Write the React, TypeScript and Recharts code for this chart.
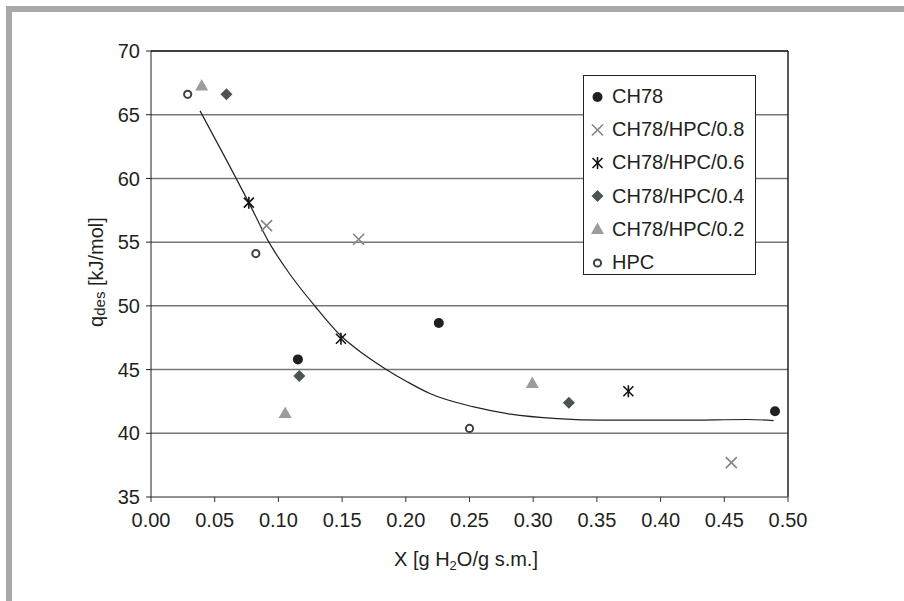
import { ScatterChart, Scatter, XAxis, YAxis, CartesianGrid, ReferenceLine } from 'recharts'

// [x, q] pairs
const ch78 = [[0.1153, 45.8], [0.2259, 48.65], [0.4898, 41.73]]
const hpc08 = [[0.0907, 56.3], [0.163, 55.23], [0.4555, 37.7]]
const hpc06 = [[0.0768, 58.1], [0.1491, 47.42], [0.3747, 43.3]]
const hpc04 = [[0.0592, 66.6], [0.1164, 44.5], [0.328, 42.4]]
const hpc02 = [[0.0398, 67.3], [0.1053, 41.6], [0.2993, 43.95]]
const hpc = [[0.0288, 66.6], [0.0823, 54.1], [0.25, 40.38]]

// trend curve
const trend = [
  [0.0385, 65.3], [0.06, 61.3], [0.0768, 58.1], [0.0925, 55.0], [0.1082, 52.6],
  [0.1289, 49.95], [0.149, 47.65], [0.167, 46.2], [0.184, 45.05], [0.201, 44.05],
  [0.2193, 43.1], [0.2534, 42.07], [0.2822, 41.5], [0.319, 41.15], [0.3556, 41.03],
  [0.416, 41.03], [0.4683, 41.08], [0.4887, 41.0],
]

const xTicks = [0, 0.05, 0.1, 0.15, 0.2, 0.25, 0.3, 0.35, 0.4, 0.45, 0.5]
const yTicks = [35, 40, 45, 50, 55, 60, 65, 70]

type Kind = 'dot' | 'cross' | 'star' | 'diamond' | 'triangle' | 'ring'

const seriesList: Array<{ name: string; kind: Kind; data: number[][] }> = [
  { name: 'CH78', kind: 'dot', data: ch78 },
  { name: 'CH78/HPC/0.8', kind: 'cross', data: hpc08 },
  { name: 'CH78/HPC/0.6', kind: 'star', data: hpc06 },
  { name: 'CH78/HPC/0.4', kind: 'diamond', data: hpc04 },
  { name: 'CH78/HPC/0.2', kind: 'triangle', data: hpc02 },
  { name: 'HPC', kind: 'ring', data: hpc },
]

const toPoints = (rows: number[][]) => rows.map(([x, y]) => ({ x, y }))

function Marker({ kind, cx, cy }: { kind: Kind; cx: number; cy: number }) {
  switch (kind) {
    case 'dot':
      return <circle cx={cx} cy={cy} r={5} fill="#231f20" />
    case 'cross':
      return (
        <g stroke="#858585" strokeWidth={1.6}>
          <line x1={cx - 5.5} y1={cy - 5.5} x2={cx + 5.5} y2={cy + 5.5} />
          <line x1={cx - 5.5} y1={cy + 5.5} x2={cx + 5.5} y2={cy - 5.5} />
        </g>
      )
    case 'star':
      return (
        <g stroke="#111" strokeWidth={1.6}>
          <line x1={cx - 5} y1={cy - 5} x2={cx + 5} y2={cy + 5} />
          <line x1={cx - 5} y1={cy + 5} x2={cx + 5} y2={cy - 5} />
          <line x1={cx} y1={cy - 6} x2={cx} y2={cy + 6} />
        </g>
      )
    case 'diamond':
      return <polygon points={`${cx},${cy - 6} ${cx + 6},${cy} ${cx},${cy + 6} ${cx - 6},${cy}`} fill="#4b5353" />
    case 'triangle':
      return <polygon points={`${cx},${cy - 6.5} ${cx + 6.5},${cy + 5} ${cx - 6.5},${cy + 5}`} fill="#9c9c9c" />
    case 'ring':
      return <circle cx={cx} cy={cy} r={3.6} fill="#fff" stroke="#3b4343" strokeWidth={2} />
  }
}

const shapeFor = (kind: Kind) => (props: any) => <Marker kind={kind} cx={props.cx} cy={props.cy} />

const font = '"Liberation Sans", Arial, sans-serif'

export default function App() {
  return (
    <div style={{ position: 'absolute', left: 0, top: 0, width: 904, height: 601, background: '#fff', fontFamily: font }}>
      <div
        style={{
          position: 'absolute',
          left: 6,
          top: 6,
          right: 0,
          bottom: 0,
          borderTop: '6px solid #a8a8aa',
          borderLeft: '6px solid #a8a8aa',
        }}
      />
      <div style={{ position: 'absolute', left: 0, top: 0 }}>
        <ScatterChart width={904} height={601} margin={{ top: 51, right: 116, left: 0, bottom: 0 }}>
          <CartesianGrid vertical={false} stroke="#777" strokeWidth={1.5} />
          <XAxis
            type="number"
            dataKey="x"
            domain={[0, 0.5]}
            ticks={xTicks}
            tickFormatter={(v: number) => v.toFixed(2)}
            height={104}
            tickSize={5}
            tickMargin={11}
            stroke="#888"
            tick={{ fill: '#231f20', fontSize: 20, fontFamily: font }}
            tickLine={{ stroke: '#333' }}
            label={{
              content: () => (
                <text x={466} y={566} textAnchor="middle" fontSize={20} fontFamily={font} fill="#231f20">
                  X [g H<tspan fontSize={13} dy={4}>2</tspan>
                  <tspan dy={-4}>O/g s.m.]</tspan>
                </text>
              ),
            }}
          />
          <YAxis
            type="number"
            dataKey="y"
            domain={[35, 70]}
            ticks={yTicks}
            width={151}
            tickSize={5}
            tickMargin={6}
            stroke="#222"
            tick={{ fill: '#231f20', fontSize: 20, fontFamily: font }}
            label={{
              content: () => (
                <text
                  x={103}
                  y={272}
                  transform="rotate(-90, 103, 272)"
                  textAnchor="middle"
                  fontSize={20}
                  fontFamily={font}
                  fill="#231f20"
                >
                  q<tspan fontSize={15} dy={2}>des</tspan>
                  <tspan dy={-2}> [kJ/mol]</tspan>
                </text>
              ),
            }}
          />
          <ReferenceLine y={70} stroke="#222" strokeWidth={1.5} />
          <ReferenceLine x={0.5} stroke="#222" strokeWidth={1.5} />
          <Scatter
            name="trend"
            data={toPoints(trend)}
            line={{ stroke: '#222', strokeWidth: 1.2 }}
            lineJointType="monotoneX"
            shape={() => <g />}
            isAnimationActive={false}
          />
          {seriesList.map((s) => (
            <Scatter key={s.name} name={s.name} data={toPoints(s.data)} shape={shapeFor(s.kind)} isAnimationActive={false} />
          ))}
        </ScatterChart>
      </div>
      <div
        style={{
          position: 'absolute',
          left: 583,
          top: 75,
          width: 171,
          height: 198,
          border: '1.5px solid #222',
          background: '#fff',
          boxSizing: 'content-box',
        }}
      >
        {seriesList.map((s, i) => (
          <div
            key={s.name}
            style={{ position: 'absolute', left: 0, top: 4 + i * 33.2, height: 33, display: 'flex', alignItems: 'center' }}
          >
            <svg width={28} height={20} style={{ display: 'block' }}>
              <Marker kind={s.kind} cx={13.5} cy={10} />
            </svg>
            <span style={{ fontSize: 20, color: '#231f20', whiteSpace: 'nowrap' }}>{s.name}</span>
          </div>
        ))}
      </div>
    </div>
  )
}
